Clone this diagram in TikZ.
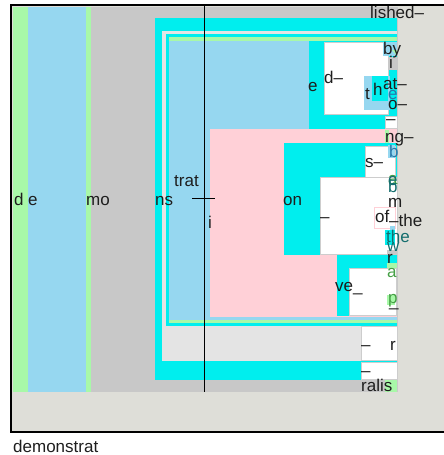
\documentclass[tikz,border=0pt]{standalone}
\usepackage{fontspec}
\setmainfont{Liberation Sans}
\definecolor{fbg}{RGB}{222,222,216}
\definecolor{pgreen}{RGB}{168,248,168}
\definecolor{lblue}{RGB}{150,215,240}
\definecolor{mgray}{RGB}{200,200,200}
\definecolor{cyn}{RGB}{0,238,238}
\definecolor{lgray}{RGB}{228,228,228}
\definecolor{pnk}{RGB}{255,208,215}
\definecolor{txt}{RGB}{30,30,30}
\definecolor{bord}{RGB}{205,205,205}
\definecolor{bluetxt}{RGB}{40,120,170}
\definecolor{greentxt}{RGB}{70,160,70}
\definecolor{tealtxt}{RGB}{20,110,110}
\begin{document}
\begin{tikzpicture}[x=1pt,y=-1pt,
 lbl/.style={inner sep=0pt,anchor=base west,text=txt,font=\fontsize{17}{17}\selectfont},
 wbox/.style={fill=white,draw=bord,line width=0.8pt},
 rule/.style={draw=black,line width=1pt}]
\useasboundingbox (0,0) rectangle (444,455);
\fill[white] (0,0) rectangle (444,455);
% frame background
\fill[fbg] (12,6) rectangle (444,431);
% columns
\fill[pgreen] (13,7) rectangle (28,392);
\fill[lblue] (28,7) rectangle (86,392);
\fill[pgreen] (86,7) rectangle (91,392);
\fill[mgray] (91,7) rectangle (398,392);
% nested
\fill[cyn] (155,18) rectangle (397,380);
\fill[lgray] (162,31) rectangle (397,361);
\fill[cyn] (166,34) rectangle (397,326);
\fill[pgreen] (169,37) rectangle (397,41);
\fill[pgreen] (169,320) rectangle (397,323);
\fill[lblue] (169,41) rectangle (397,320);
% upper right block
\fill[cyn] (309,41) rectangle (397,129);
\filldraw[wbox] (324,42) rectangle (388,114);
\fill[lblue] (383,42) rectangle (397,56);
\fill[pgreen] (392,50) -- (397,50) -- (397,56) -- cycle;
\fill[mgray] (388,57) rectangle (397,70);
\fill[lblue] (364,76) rectangle (390,110);
\fill[cyn] (372,76) rectangle (388,101);
\filldraw[wbox] (385,116) rectangle (397,128);
% pink block
\fill[pnk] (210,129) rectangle (397,317);
\fill[pgreen] (385,130) rectangle (389,143);
\fill[cyn] (284,143) rectangle (397,255);
\filldraw[wbox] (365,146) rectangle (395,177);
\fill[lblue] (388,145) rectangle (395,158);
\filldraw[wbox] (320,177) rectangle (397,254);
\filldraw[fill=white,draw=pnk,line width=1pt] (374,207) rectangle (395,228);
\fill[lblue] (390,226) rectangle (395,231);
\fill[cyn] (385,230) rectangle (395,245);
\fill[mgray] (387,250) rectangle (397,262);
\fill[cyn] (337,255) rectangle (397,316);
\fill[pgreen] (387,263) rectangle (397,274);
\filldraw[wbox] (349,268) rectangle (396,315);
\fill[pgreen] (387,295) rectangle (395,305);
% bottom boxes
\filldraw[wbox] (361,326) rectangle (397,360);
\filldraw[wbox] (361,362) rectangle (397,379);
\fill[pgreen] (385,380) rectangle (397,392);
% rules
\coordinate (vtop) at (204,5);
\coordinate (vbot) at (204,392);
\coordinate (hl) at (192,198);
\coordinate (hr) at (215,198);
\draw[rule] (vtop) -- (vbot);
\draw[rule] (hl) -- (hr);
% labels
\node[lbl] (l1) at (14,205) {d};
\node[lbl] (l2) at (28,205) {e};
\node[lbl] (l3) at (86,205) {mo};
\node[lbl] (l4) at (155,205) {ns};
\node[lbl] (l5) at (174,186) {trat};
\node[lbl] (l6) at (208,228) {i};
\node[lbl] (l7) at (283,205) {on};
\node[lbl] (l8) at (308,91) {e};
\node[lbl] (l9) at (324,83) {d–};
\node[lbl] (l10) at (365,99) {t};
\node[lbl] (l11) at (373,95) {h};
\node[lbl] (l12) at (383,89) {at–};
\node[lbl,text=bluetxt] (l13) at (388,99) {e};
\node[lbl] (l14) at (388,109) {o–};
\node[lbl] (l15) at (386,124) {–};
\node[lbl] (l16) at (370,19) {lished–};
\node[lbl] (l17) at (383,54) {by};
\node[lbl] (l18) at (389,68) {i};
\node[lbl] (l19) at (385,142) {ng–};
\node[lbl,text=bluetxt] (l20) at (389,157) {b};
\node[lbl] (l21) at (365,167) {s–};
\node[lbl,text=greentxt] (l22) at (388,184) {a};
\node[lbl,text=tealtxt] (l23) at (388,185) {e};
\node[lbl,text=tealtxt] (l24) at (388,192) {b};
\node[lbl] (l25) at (388,207) {m};
\node[lbl] (l26) at (375,222) {of};
\node[lbl] (l27) at (389,226) {–the};
\node[lbl] (l28) at (320,222) {–};
\node[lbl,text=tealtxt] (l29) at (386,242) {the};
\node[lbl,text=tealtxt] (l30) at (387,251) {w};
\node[lbl] (l31) at (387,263) {r};
\node[lbl,text=greentxt] (l32) at (387,277) {a};
\node[lbl] (l33) at (335,291) {ve\_};
\node[lbl,text=greentxt] (l34) at (388,303) {p};
\node[lbl] (l35) at (389,306) {\_};
\node[lbl] (l36) at (361,350) {–};
\node[lbl] (l37) at (390,350) {r};
\node[lbl] (l38) at (361,376) {–};
\node[lbl] (l39) at (361,391) {ralis};
% frame border
\draw[black,line width=2pt] (446,5) -- (11,5) -- (11,432) -- (446,432);
\node[lbl] (cap) at (13,452) {demonstrat};
\end{tikzpicture}
\end{document}
